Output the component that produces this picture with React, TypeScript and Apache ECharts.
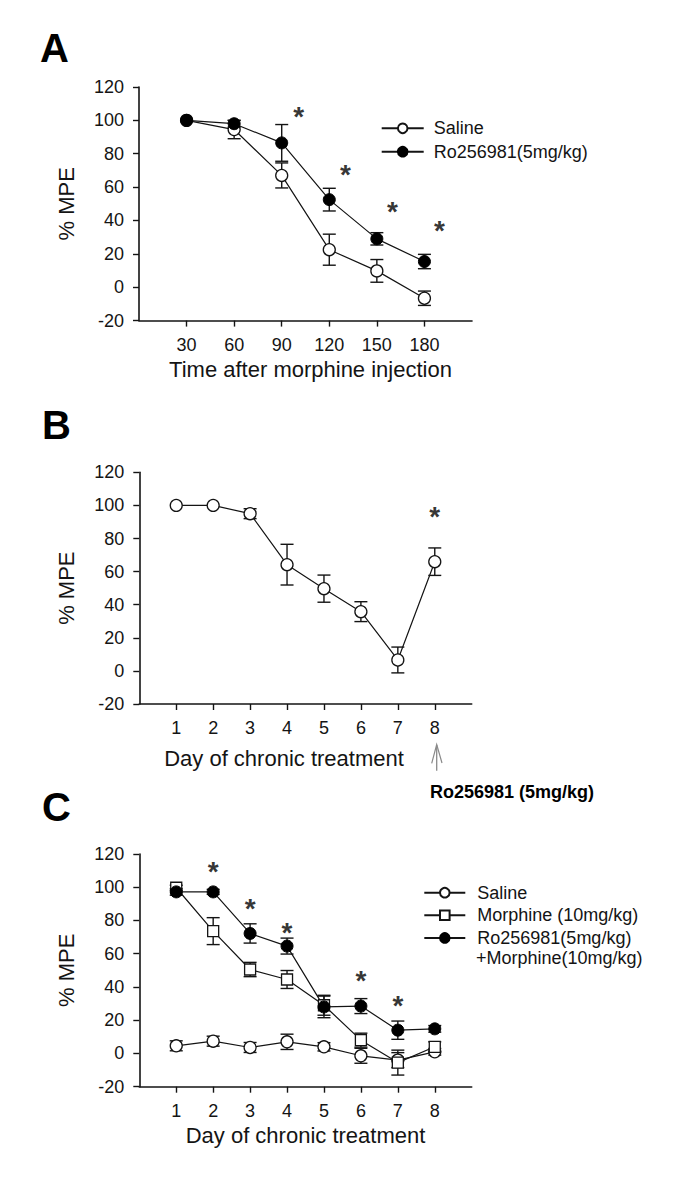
import React, { useEffect, useRef } from 'react';
import * as echarts from 'echarts';

const FONT = '"Liberation Sans", Arial, Helvetica, sans-serif';
const INK = '#141414';

// ---------- Panel A ----------
const timeA = [30, 60, 90, 120, 150, 180];
const salineA = [100, 94.5, 67, 22.5, 9.8, -6.6];
const salineAErr = [0, 5.5, 7.5, 9.3, 6.8, 4.3];
const roA = [100, 98, 86.5, 52.5, 29, 15.4];
const roAErr = [0, 2, 11, 6.8, 3.7, 4.3];
const starsA = [[100.7, 106], [130.2, 71], [159.8, 49], [189.5, 37.5]];

// ---------- Panel B ----------
const days = [1, 2, 3, 4, 5, 6, 7, 8];
const chronicB = [100, 100, 95, 64.2, 49.7, 35.8, 6.6, 66];
const chronicBErr = [0, 0, 3, 12.3, 8.2, 6, 7.8, 8.3];
const starsB = [[8, 97]];

// ---------- Panel C ----------
const salineC = [4.6, 7.4, 3.6, 7, 4, -1.4, -4, 1];
const salineCErr = [3, 3, 3, 4.6, 2.5, 4.5, 4.5, 2];
const morphineC = [99.7, 73.6, 50.5, 44.5, 29, 8, -5.5, 4];
const morphineCErr = [1.5, 8.1, 4.3, 5.4, 6, 4.2, 7.5, 3];
const roMorC = [97.2, 97.2, 72.2, 64.6, 28, 28.5, 14, 14.8];
const roMorCErr = [2, 1.5, 5.8, 4.8, 6.5, 4.5, 5.5, 2];
const starsC = [[2, 113], [3, 91], [4, 76.6], [6, 47.7], [7, 32.5]];

const yMin = -20;
const yMax = 120;
const yStep = 20;

const NAME_SALINE = 'Saline';
const NAME_RO = 'Ro256981(5mg/kg)';
const NAME_MOR = 'Morphine (10mg/kg)';
const NAME_ROMOR = 'Ro256981(5mg/kg)+Morphine(10mg/kg)';
const NAME_B = 'Chronic morphine';

const pairs = (xs: number[], ys: number[]) => xs.map((x, i) => [x, ys[i]]);
const errRows = (xs: number[], ys: number[], es: number[]) => xs.map((x, i) => [x, ys[i], es[i]]);

const openStyle = { color: '#ffffff', borderColor: INK, borderWidth: 1.3 };
const filledStyle = { color: '#000000', borderColor: '#000000', borderWidth: 1 };

function lineSeries(name: string, idx: number, data: number[][], symbol: string, size: number, itemStyle: any) {
  return {
    type: 'line',
    name,
    xAxisIndex: idx,
    yAxisIndex: idx,
    data,
    symbol,
    symbolSize: size,
    showAllSymbol: true,
    itemStyle,
    lineStyle: { color: INK, width: 1.2 },
    z: 3,
    silent: true,
    emphasis: { disabled: true },
  };
}

function errSeries(idx: number, data: number[][]) {
  return {
    type: 'custom',
    xAxisIndex: idx,
    yAxisIndex: idx,
    data,
    encode: { x: 0, y: 1 },
    z: 1,
    silent: true,
    renderItem: (params: any, api: any) => {
      const x = api.value(0);
      const y = api.value(1);
      const e = api.value(2);
      if (!e) return { type: 'group', children: [] };
      const top = api.coord([x, y + e]);
      const bot = api.coord([x, y - e]);
      const hw = 6.5;
      const style = { stroke: INK, lineWidth: 1.4 };
      return {
        type: 'group',
        children: [
          { type: 'line', shape: { x1: top[0], y1: top[1], x2: bot[0], y2: bot[1] }, style },
          { type: 'line', shape: { x1: top[0] - hw, y1: top[1], x2: top[0] + hw, y2: top[1] }, style },
          { type: 'line', shape: { x1: bot[0] - hw, y1: bot[1], x2: bot[0] + hw, y2: bot[1] }, style },
        ],
      };
    },
  };
}

function starSeries(idx: number, data: number[][]) {
  return {
    type: 'scatter',
    xAxisIndex: idx,
    yAxisIndex: idx,
    data,
    symbolSize: 1,
    itemStyle: { color: 'rgba(0,0,0,0)' },
    z: 5,
    silent: true,
    label: {
      show: true,
      position: 'inside',
      formatter: '*',
      fontSize: 28,
      fontWeight: 'bold',
      fontFamily: FONT,
      color: '#000',
      offset: [0, 6],
    },
  };
}

function xAxisCfg(idx: number, min: number, max: number, ticks: number[], name: string, gap: number, pad: number[]) {
  return {
    gridIndex: idx,
    type: 'value',
    min,
    max,
    axisLine: { show: true, onZero: false, lineStyle: { color: INK, width: 1.6 } },
    axisTick: { show: true, length: 6, customValues: ticks, lineStyle: { color: INK, width: 1.4 } },
    axisLabel: { customValues: ticks, fontSize: 18, fontFamily: FONT, color: INK, margin: 15 },
    splitLine: { show: false },
    name,
    nameLocation: 'middle',
    nameGap: gap,
    nameTextStyle: { fontSize: 22, fontFamily: FONT, color: INK, padding: pad },
  };
}

function yAxisCfg(idx: number) {
  return {
    gridIndex: idx,
    type: 'value',
    min: yMin,
    max: yMax,
    interval: yStep,
    axisLine: { show: true, onZero: false, lineStyle: { color: INK, width: 1.6 } },
    axisTick: { show: true, length: 6, lineStyle: { color: INK, width: 1.4 } },
    axisLabel: { fontSize: 18, fontFamily: FONT, color: INK, margin: 15 },
    splitLine: { show: false },
    name: '% MPE',
    nameLocation: 'middle',
    nameGap: 62,
    nameTextStyle: { fontSize: 22, fontFamily: FONT, color: INK },
  };
}

const legendText = { fontSize: 18, fontFamily: FONT, color: INK, lineHeight: 18 };

export default function App() {
  const ref = useRef<HTMLDivElement>(null);

  useEffect(() => {
    if (!ref.current) return;
    const chart = echarts.init(ref.current, undefined, { renderer: 'svg' });
    const option: any = {
      animation: false,
      backgroundColor: '#ffffff',
      grid: [
        { left: 139, top: 87, width: 333, height: 233.6 },
        { left: 139.3, top: 472.3, width: 332.4, height: 231.7 },
        { left: 139.3, top: 854, width: 332.4, height: 232.7 },
      ],
      xAxis: [
        xAxisCfg(0, 0, 210, timeA, 'Time after morphine injection', 38, [0, 0, 0, 10]),
        xAxisCfg(1, 0, 9, days, 'Day of chronic treatment', 43, [0, 43, 0, 0]),
        xAxisCfg(2, 0, 9, days, 'Day of chronic treatment', 38, [0, 0, 0, 0]),
      ],
      yAxis: [yAxisCfg(0), yAxisCfg(1), yAxisCfg(2)],
      legend: [
        {
          orient: 'vertical',
          left: 380.7,
          top: 119.3,
          padding: 0,
          itemWidth: 42,
          itemHeight: 12,
          itemGap: 5.4,
          selectedMode: false,
          data: [NAME_SALINE, NAME_RO],
          textStyle: { ...legendText, padding: [0, 0, 0, 5] },
        },
        {
          orient: 'vertical',
          left: 423.3,
          top: 883.7,
          padding: 0,
          itemWidth: 41,
          itemHeight: 12,
          itemGap: 4.6,
          selectedMode: false,
          data: [NAME_SALINE, NAME_MOR, NAME_ROMOR],
          formatter: (n: string) => (n === NAME_ROMOR ? 'Ro256981(5mg/kg)' : n),
          textStyle: { ...legendText, padding: [0, 0, 0, 7] },
        },
      ],
      series: [
        // Panel A
        errSeries(0, errRows(timeA, salineA, salineAErr)),
        errSeries(0, errRows(timeA, roA, roAErr)),
        lineSeries(NAME_SALINE, 0, pairs(timeA, salineA), 'circle', 12, openStyle),
        lineSeries(NAME_RO, 0, pairs(timeA, roA), 'circle', 12, filledStyle),
        starSeries(0, starsA),
        // Panel B
        errSeries(1, errRows(days, chronicB, chronicBErr)),
        lineSeries(NAME_B, 1, pairs(days, chronicB), 'circle', 12, openStyle),
        starSeries(1, starsB),
        // Panel C
        errSeries(2, errRows(days, salineC, salineCErr)),
        errSeries(2, errRows(days, morphineC, morphineCErr)),
        errSeries(2, errRows(days, roMorC, roMorCErr)),
        lineSeries(NAME_SALINE, 2, pairs(days, salineC), 'circle', 12, openStyle),
        lineSeries(NAME_MOR, 2, pairs(days, morphineC), 'rect', 11, openStyle),
        lineSeries(NAME_ROMOR, 2, pairs(days, roMorC), 'circle', 12, filledStyle),
        starSeries(2, starsC),
      ],
      graphic: [
        { type: 'text', left: 40, top: 28, style: { text: 'A', font: `bold 40px ${FONT}`, fill: '#000' } },
        { type: 'text', left: 42, top: 405, style: { text: 'B', font: `bold 40px ${FONT}`, fill: '#000' } },
        { type: 'text', left: 42, top: 787, style: { text: 'C', font: `bold 40px ${FONT}`, fill: '#000' } },
        {
          type: 'line',
          shape: { x1: 436.7, y1: 770.7, x2: 436.7, y2: 745 },
          style: { stroke: '#8a8a8a', lineWidth: 1.3 },
        },
        {
          type: 'polyline',
          shape: { points: [[431.7, 763.3], [436.7, 744.5], [442, 763]] },
          style: { stroke: '#8a8a8a', lineWidth: 1.2, fill: 'none' },
        },
        {
          type: 'text',
          left: 430,
          top: 783,
          style: { text: 'Ro256981 (5mg/kg)', font: `bold 18px ${FONT}`, fill: '#000' },
        },
        {
          type: 'text',
          left: 476,
          top: 949,
          style: { text: '+Morphine(10mg/kg)', font: `18px ${FONT}`, fill: INK },
        },
      ],
    };
    chart.setOption(option);
    return () => chart.dispose();
  }, []);

  return (
    <div
      ref={ref}
      style={{ position: 'absolute', left: 0, top: 0, width: 685, height: 1183, background: '#fff' }}
    />
  );
}
